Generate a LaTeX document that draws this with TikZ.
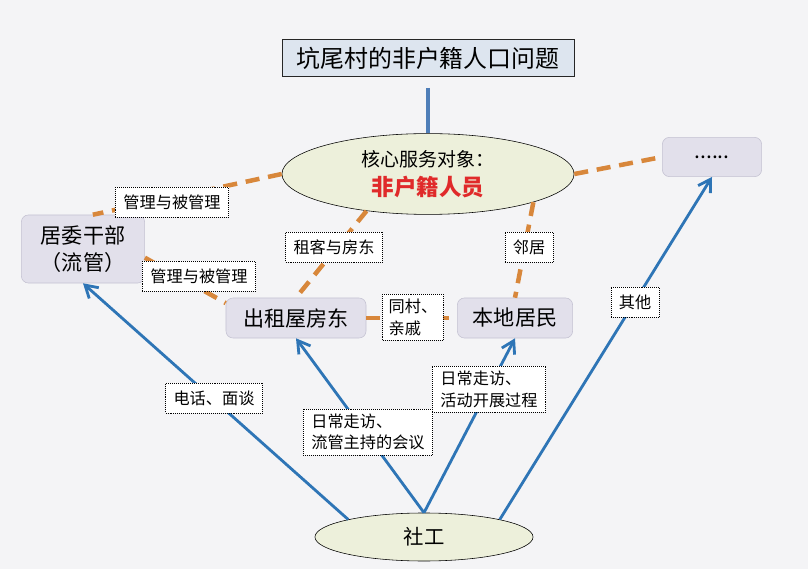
\documentclass[tikz,border=0pt]{standalone}
\usepackage{fontspec}
\setmainfont{Noto Sans CJK SC}
\usetikzlibrary{shapes.geometric,arrows.meta}

\definecolor{paperBg}{HTML}{F4F4F6}
\definecolor{titleFill}{HTML}{DDE5EF}
\definecolor{coreFill}{HTML}{EDF0DB}
\definecolor{roleFill}{HTML}{E2E0EB}
\definecolor{roleLine}{HTML}{C4C2D2}
\definecolor{relOrange}{HTML}{D8873B}
\definecolor{arrowBlue}{HTML}{2E75B6}
\definecolor{barBlue}{HTML}{4F7EB8}
\definecolor{keyRed}{HTML}{E02A2A}

\tikzstyle{titleNode} = [rectangle, draw=black!85, fill=titleFill, minimum width=7.3cm, minimum height=0.92cm, text centered, font=\fontsize{17}{20}\selectfont]
\tikzstyle{coreNode} = [ellipse, draw=black, fill=coreFill, minimum width=7.3cm, minimum height=2.02cm, align=center, font=\fontsize{13.5}{20.5}\selectfont]
\tikzstyle{roleNode} = [rectangle, rounded corners=5pt, draw=roleLine, fill=roleFill, minimum height=1cm, text centered, font=\fontsize{15}{19}\selectfont]
\tikzstyle{workerNode} = [ellipse, draw=black, fill=coreFill, minimum width=5.45cm, minimum height=1.2cm, font=\fontsize{14.5}{18}\selectfont]
\tikzstyle{tagNode} = [rectangle, draw=black, densely dotted, fill=white, align=left, inner xsep=0.2cm, minimum height=0.75cm, font=\fontsize{11.5}{15.5}\selectfont]
\tikzstyle{relLine} = [draw=relOrange, line width=3.2pt, dash pattern=on 0.35cm off 0.22cm]
\tikzstyle{arrow} = [draw=arrowBlue, line width=2pt, -{Straight Barb[length=3mm,width=3.6mm]}]

\begin{document}
\begin{tikzpicture}[x=0.025cm, y=-0.025cm]
    \fill[paperBg] (0,0) rectangle (808,569);
    \useasboundingbox (0,0) rectangle (808,569);

    \node (title)[titleNode] at (428,58) {坑尾村的非户籍人口问题};
    \node (core)[coreNode] at (428,174) {核心服务对象：\\{\color{keyRed}\fontsize{16}{20}\selectfont\bfseries 非户籍人员}};
    \node (others)[roleNode, minimum width=2.48cm, minimum height=0.98cm] at (712,157) {......};
    \node (cadre)[roleNode, minimum width=3.08cm, minimum height=1.7cm, align=center] at (83,249) {居委干部\\（流管）};
    \node (landlord)[roleNode, minimum width=3.5cm] at (296,318) {出租屋房东};
    \node (locals)[roleNode, minimum width=2.88cm] at (515,318) {本地居民};
    \node (worker)[workerNode] at (424,537) {社工};

    \draw [barBlue, line width=3.5pt, shorten <=8pt] (title) -- (core);

    \draw [relLine] (core.west) -- (cadre.74);
    \draw [relLine] (core.east) -- (others.west);
    \draw [relLine] (cadre.-8) -- (landlord.168);
    \draw [relLine] (core.211) -- (landlord.north);
    \draw [relLine] (core.-15) -- (locals.north);
    \draw [relLine] (landlord.east) -- (locals.west);

    \draw [arrow] (worker.167) -- (cadre.south);
    \draw [arrow] (worker.north) -- (landlord.south);
    \draw [arrow] (worker.north) -- (locals.south);
    \draw [arrow] (worker.13) -- (others.south);

    \node (t_cadre)[tagNode] at (172,202) {管理与被管理};
    \node (t_rent)[tagNode] at (199,276) {管理与被管理};
    \node (t_tenant)[tagNode] at (334,247) {租客与房东};
    \node (t_neigh)[tagNode] at (529,247) {邻居};
    \node (t_kin)[tagNode, inner xsep=0.15cm] at (413,317) {同村、\\亲戚};
    \node (t_phone)[tagNode] at (214,398) {电话、面谈};
    \node (t_meet)[tagNode] at (368,432) {日常走访、\\流管主持的会议};
    \node (t_visit)[tagNode] at (489,389) {日常走访、\\活动开展过程};
    \node (t_other)[tagNode] at (635,302) {其他};
\end{tikzpicture}
\end{document}
